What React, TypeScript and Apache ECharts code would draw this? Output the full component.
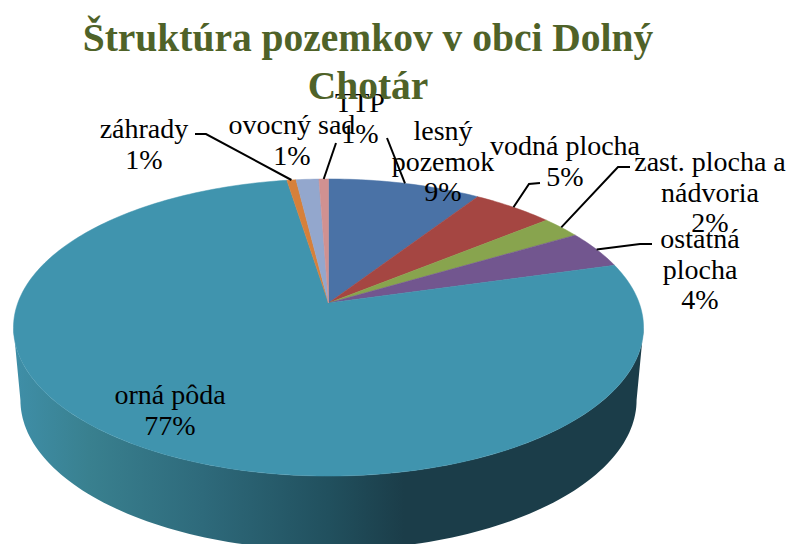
import React, { useEffect, useRef } from "react";
import * as echarts from "echarts";

const titleText = "Štruktúra pozemkov v obci Dolný\nChotár";
const categories = ["lesný\npozemok", "vodná plocha", "zast. plocha a\nnádvoria", "ostatná\nplocha", "orná pôda", "záhrady", "ovocný sad", "TTP"];
const values = [9.2, 4.9, 2.4, 4.1, 76.9, 0.55, 1.37, 0.57];
const colors = ["#4a72a6", "#a54642", "#88a44e", "#72568f", "#4094ae", "#d6803a", "#93a7cd", "#d09191"];

// Where each data label sits (centre x, centre y), by category order.
const labelCentres = [[443, 161], [565, 161], [710, 192], [700, 269], [170, 410], [144, 144], [292, 140], [360, 118]];
// Elbow of each leader line, from the label side, by category order (null = no leader).
const leaderElbows: (number[][] | null)[] = [
  [[387, 138]],
  [[540, 183], [529, 184]],
  [[630, 167], [618, 167]],
  [[652, 244], [640, 244]],
  null,
  [[195, 134], [206, 134]],
  null,
  [[336, 143]],
];

// Perspective projection of the pie's top face.
const CX = 328.5, APEX_Y = 303, K = 0.165, A = 144.5, B = 310.7;
const total = values.reduce((s, v) => s + v, 0);
const cumulativeBefore = (i: number) => values.slice(0, i).reduce((s, v) => s + v, 0);
const angleOf = (v: number) => (v / total) * Math.PI * 2;
const rim = (t: number, r = 1) => {
  const u = Math.sin(t), v = Math.cos(t), d = 1 + K * v;
  return [CX + (r * B * u) / d, APEX_Y - (r * A * v) / d];
};
const lowerRim = (t: number) => {
  const p = rim(t);
  return [CX + (p[0] - CX) * 0.978, 400 + (p[1] - 327.5) * 1.01];
};

export default function App() {
  const ref = useRef<HTMLDivElement>(null);
  useEffect(() => {
    document.body.style.margin = "0";
    const chart = echarts.init(ref.current!, undefined, { renderer: "svg" });
    const font = "28px 'Liberation Serif'";
    chart.setOption({
      animation: false,
      backgroundColor: "#ffffff",
      title: {
        text: titleText,
        left: 363,
        top: 9,
        textAlign: "center",
        textStyle: { fontFamily: "Liberation Serif", fontWeight: "bold", fontSize: 39.5, lineHeight: 48, color: "#4f6228" },
      },
      series: [
        {
          type: "custom",
          coordinateSystem: "none",
          silent: true,
          z: 1,
          data: [total],
          renderItem: () => {
            const tL = Math.atan2(-Math.sqrt(1 - K * K), -K) + Math.PI * 2;
            const tR = Math.atan2(Math.sqrt(1 - K * K), -K);
            const pts: number[][] = [];
            const n = 120;
            for (let j = 0; j <= n; j++) pts.push(rim(tR + ((tL - tR) * j) / n));
            for (let j = n; j >= 0; j--) pts.push(lowerRim(tR + ((tL - tR) * j) / n));
            return {
              type: "polygon",
              shape: { points: pts },
              style: {
                fill: new echarts.graphic.LinearGradient(0, 0, 1, 0, [
                  { offset: 0, color: "#3f8fa8" },
                  { offset: 0.12, color: "#39808f" },
                  { offset: 0.3, color: "#2e6a7b" },
                  { offset: 0.5, color: "#21505e" },
                  { offset: 0.62, color: "#1b3d49" },
                  { offset: 1, color: "#1b3d49" },
                ]),
              },
            };
          },
        },
        {
          type: "custom",
          coordinateSystem: "none",
          silent: true,
          z: 2,
          data: values.map((v) => [v]),
          renderItem: (params: any, api: any) => {
            const i = params.dataIndex;
            const start = angleOf(cumulativeBefore(i));
            const sweep = angleOf(api.value(0));
            const n = Math.max(2, Math.ceil(sweep / 0.02));
            const pts: number[][] = [[CX, APEX_Y]];
            for (let j = 0; j <= n; j++) pts.push(rim(start + (sweep * j) / n));
            return { type: "polygon", shape: { points: pts }, style: { fill: colors[i], stroke: colors[i], lineWidth: 0.5 } };
          },
        },
        {
          type: "custom",
          coordinateSystem: "none",
          silent: true,
          z: 3,
          data: values.map((v) => [v]),
          renderItem: (params: any, api: any) => {
            const i = params.dataIndex;
            const elbows = leaderElbows[i];
            if (!elbows) return null;
            const mid = angleOf(cumulativeBefore(i) + api.value(0) / 2);
            return {
              type: "polyline",
              shape: { points: [...elbows, rim(mid)] },
              style: { stroke: "#000000", lineWidth: 2, fill: "none" },
            };
          },
        },
        {
          type: "custom",
          coordinateSystem: "none",
          silent: true,
          z: 4,
          data: values.map((v) => [v]),
          renderItem: (params: any, api: any) => {
            const i = params.dataIndex;
            const pct = Math.round((api.value(0) / total) * 100);
            return {
              type: "text",
              style: {
                text: `${categories[i]}\n${pct}%`,
                x: labelCentres[i][0],
                y: labelCentres[i][1],
                align: "center",
                verticalAlign: "middle",
                font,
                lineHeight: 30.5,
                fill: "#000000",
              },
            };
          },
        },
      ],
    });
    return () => chart.dispose();
  }, []);
  return <div ref={ref} style={{ width: 788, height: 544 }} />;
}
